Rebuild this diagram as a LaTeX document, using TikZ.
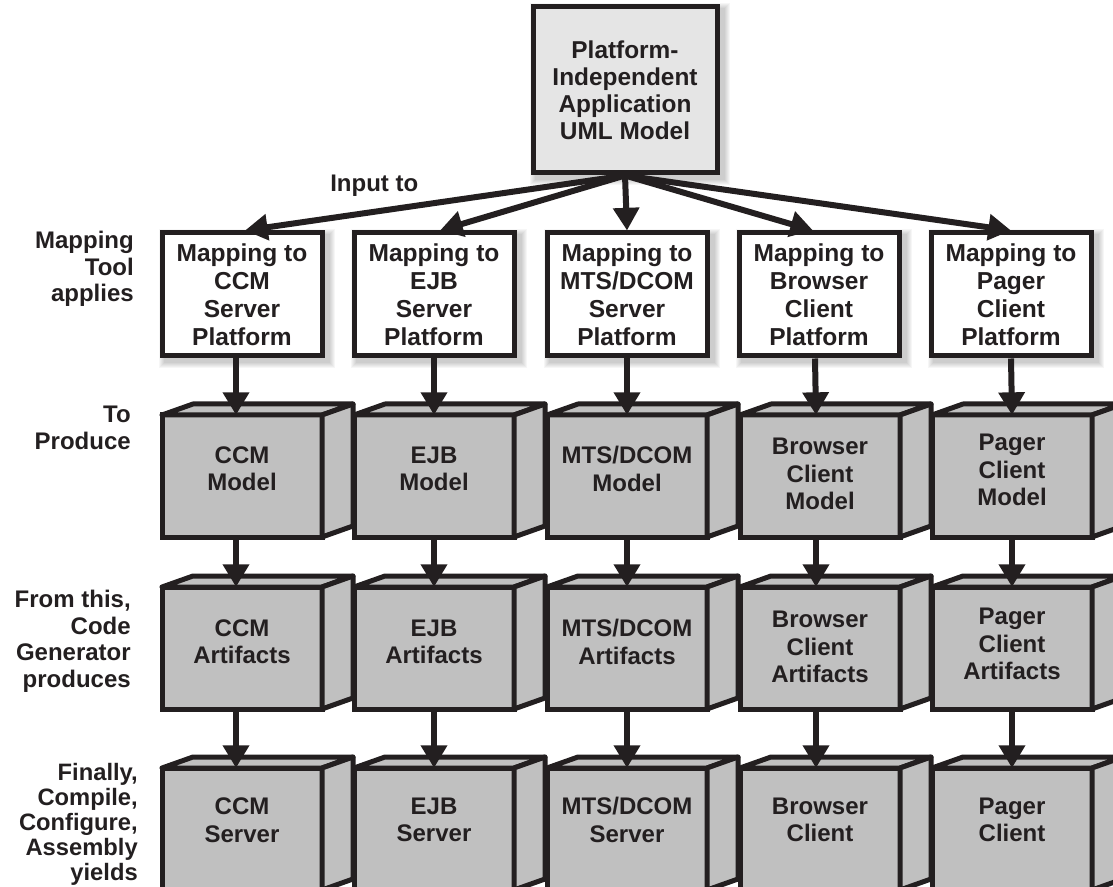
\documentclass[tikz,border=0pt]{standalone}
\usepackage{fontspec}
\setmainfont{Liberation Sans}
\usetikzlibrary{arrows.meta,backgrounds}

\definecolor{ink}{RGB}{35,31,32}
\definecolor{cubegray}{RGB}{192,192,192}
\definecolor{pimgray}{RGB}{229,229,229}

% a box drawn as a cube: front face is the node, top and right faces are added,
% the caption sits a little above the middle of the front face
\newcommand\drawcube[5]{%
  \node[cubefront] (#1) at (#2,#3) {};
  \draw[cubeside] (#1.north west) -- ++(31,-11) -- ([shift={(31,-11)}]#1.north east) -- (#1.north east) -- cycle;
  \draw[cubeside] (#1.north east) -- ++(31,-11) -- ([shift={(31,-11)}]#1.south east) -- (#1.south east) -- cycle;
  \node[cubetext] (#1t) at ([shift={(0,#4)}]#1.center) {#5};
}

\begin{document}
\begin{tikzpicture}[x=0.75pt,y=-0.75pt,
  every node/.style={text=ink},
  pim/.style={draw=ink, fill=pimgray, line width=3.75pt, minimum width=138pt, minimum height=124.5pt,
    align=center, inner sep=0pt, font=\fontsize{18.3}{20.25}\selectfont\bfseries},
  mapbox/.style={draw=ink, fill=white, line width=3.75pt, minimum width=120pt, minimum height=92.25pt,
    align=center, inner sep=0pt, font=\fontsize{18.4}{21}\selectfont\bfseries},
  cubefront/.style={draw=ink, fill=cubegray, line width=3.75pt, minimum width=120pt, minimum height=91.5pt,
    outer sep=0pt, inner sep=0pt},
  cubetext/.style={inner sep=0pt, align=center, font=\fontsize{18}{20.6}\selectfont\bfseries},
  cubeside/.style={draw=ink, fill=cubegray, line width=3.75pt, line join=round},
  arr/.style={draw=ink, line width=4.5pt, -{Triangle[length=17pt,width=19pt]}},
  sidelabel/.style={anchor=north east, align=right, inner sep=0pt, font=\fontsize{18}{20}\selectfont\bfseries},
]
\useasboundingbox (0,0) rectangle (1113,887);
\clip (0,0) rectangle (1113,887);

% source model
\node[pim] (pim) at (625,90) {Platform-\\Independent\\Application\\UML Model};

% mapping steps
\node[mapbox] (m1) at (242,294.5) {Mapping to\\CCM\\Server\\Platform};
\node[mapbox] (m2) at (434,294.5) {Mapping to\\EJB\\Server\\Platform};
\node[mapbox] (m3) at (627,294.5) {Mapping to\\MTS/DCOM\\Server\\Platform};
\node[mapbox] (m4) at (819,294.5) {Mapping to\\Browser\\Client\\Platform};
\node[mapbox] (m5) at (1011,294.5) {Mapping to\\Pager\\Client\\Platform};

% soft shadows behind the flat boxes
\begin{scope}[on background layer]
  \foreach \b in {pim,m1,m2,m3,m4,m5}{
    \foreach \k in {1,...,6}{
      \fill[black, opacity=0.035] ([shift={(5-\k,5-\k)}]\b.north west) rectangle ([shift={(4+\k,4+\k)}]\b.south east);
    }
  }
\end{scope}

% row labels
\node[sidelabel] (l1) at (134,231) {Mapping\\Tool\\applies};
\node[sidelabel] (l2) at (131,406) {To\\Produce};
\node[sidelabel] (l3) at (131,590) {From this,\\Code\\Generator\\produces};
\node[sidelabel, font=\fontsize{17.8}{18.75}\selectfont\bfseries] (l4) at (138,763) {Finally,\\Compile,\\Configure,\\Assembly\\yields};
\node[anchor=base west, inner sep=0pt, font=\fontsize{18}{21}\selectfont\bfseries] (inp) at (330,192) {Input to};

% platform models
\drawcube{a1}{242}{476}{-7}{CCM\\Model}
\drawcube{a2}{434}{476}{-7}{EJB\\Model}
\drawcube{a3}{627}{476}{-7}{MTS/DCOM\\Model}
\drawcube{a4}{820}{476}{-2}{Browser\\Client\\Model}
\drawcube{a5}{1012}{476}{-6}{Pager\\Client\\Model}

% generated artifacts
\drawcube{b1}{242}{648}{-6}{CCM\\Artifacts}
\drawcube{b2}{434}{648}{-6}{EJB\\Artifacts}
\drawcube{b3}{627}{648}{-6}{MTS/DCOM\\Artifacts}
\drawcube{b4}{820}{648}{-1}{Browser\\Client\\Artifacts}
\drawcube{b5}{1012}{648}{-4}{Pager\\Client\\Artifacts}

% deployed results
\drawcube{c1}{242}{829}{-9}{CCM\\Server}
\drawcube{c2}{434}{829}{-9}{EJB\\Server}
\drawcube{c3}{627}{829}{-9}{MTS/DCOM\\Server}
\drawcube{c4}{820}{829}{-9}{Browser\\Client}
\drawcube{c5}{1012}{829}{-9}{Pager\\Client}

% fan-out from the source model
\draw[arr] (pim.south) -- ([shift={(3,0)}]m1.north);
\draw[arr] (pim.south) -- ([shift={(6,0)}]m2.north);
\draw[arr] (pim.south) -- (m3.north);
\draw[arr] (pim.south) -- ([shift={(-6,0)}]m4.north);
\draw[arr] (pim.south) -- (m5.north);

% vertical flow in each column
\foreach \i/\s in {1/-6,2/0,3/0,4/-4,5/0}{
  \draw[arr] ([shift={(\s,0)}]m\i.south) -- ([shift={(\s,0)}]a\i.north);
  \draw[arr] ([shift={(\s,0)}]a\i.south) -- ([shift={(\s,0)}]b\i.north);
  \draw[arr] ([shift={(\s,0)}]b\i.south) -- ([shift={(\s,0)}]c\i.north);
}
\end{tikzpicture}
\end{document}
